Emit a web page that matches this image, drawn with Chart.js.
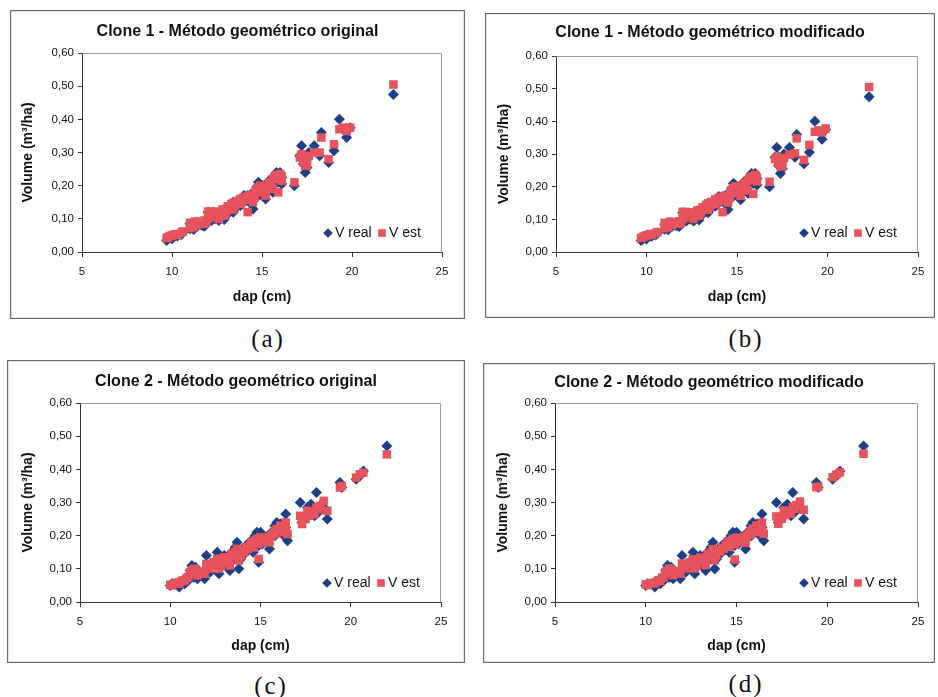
<!DOCTYPE html>
<html>
<head>
<meta charset="utf-8">
<script src="https://cdn.jsdelivr.net/npm/chart.js@4"></script>
<style>
  html, body { margin:0; padding:0; background:#ffffff; }
  body { width:938px; height:697px; position:relative; overflow:hidden; }
  canvas { position:absolute; }
  .lbl { position:absolute; font-family:"Liberation Serif","Times New Roman",serif; font-size:25px; color:#111;
         letter-spacing:2px; padding-left:2px; transform:translate(-50%,-50%); line-height:1; white-space:nowrap; }
</style>
</head>
<body>
<canvas id="c0"></canvas>
<canvas id="c1"></canvas>
<canvas id="c2"></canvas>
<canvas id="c3"></canvas>
<div class="lbl" id="l0"></div>
<div class="lbl" id="l1"></div>
<div class="lbl" id="l2"></div>
<div class="lbl" id="l3"></div>
<script>
// ---------------- DATA ----------------
const titles = [
  'Clone 1 - Método geométrico original',
  'Clone 1 - Método geométrico modificado',
  'Clone 2 - Método geométrico original',
  'Clone 2 - Método geométrico modificado'
];
const panelLabels = ['(a)', '(b)', '(c)', '(d)'];
const seriesNames = ['V real', 'V est'];
const xAxisTitle = 'dap (cm)';
const yAxisTitle = 'Volume (m³/ha)';
const xTicks = [5, 10, 15, 20, 25];
const yTickValues = [0, 0.1, 0.2, 0.3, 0.4, 0.5, 0.6];
const yTickLabels = ['0,00', '0,10', '0,20', '0,30', '0,40', '0,50', '0,60'];

// Clone 1 (dap in cm, volumes in m³)
const dap1 = [9.7, 9.8, 9.9, 10.0, 10.1, 10.2, 10.5, 10.6, 11.0, 11.1, 11.2, 11.3, 11.4, 11.5, 11.6, 11.7, 11.8, 11.9,
  12.0, 12.1, 12.2, 12.3, 12.4, 12.5, 12.6, 12.7, 12.8, 12.9, 13.0, 13.1, 13.2, 13.3, 13.5, 13.6, 13.7, 13.8, 13.9,
  14.0, 14.1, 14.2, 14.3, 14.4, 14.5, 14.6, 14.7, 14.8, 14.9, 15.0, 15.1, 15.2, 15.3, 15.4, 15.5, 15.6, 15.7, 15.8, 15.9,
  16.0, 16.1, 16.8, 17.1, 17.2, 17.3, 17.4, 17.5, 17.6, 17.9, 18.2, 18.3, 18.7, 19.0, 19.3, 19.5, 19.7, 19.9, 22.3,
  11.3, 11.8, 12.2, 12.6, 13.0, 13.4, 13.4, 13.8, 14.2, 14.6, 14.9, 15.1, 15.4, 15.6, 15.8, 16.0, 16.1, 12.0, 11.0, 10.3, 17.3, 17.5];
const vReal1 = [0.035, 0.040, 0.045, 0.040, 0.048, 0.050, 0.052, 0.058, 0.070, 0.075, 0.068, 0.080, 0.078, 0.085, 0.082, 0.080, 0.088, 0.085,
  0.092, 0.110, 0.095, 0.120, 0.100, 0.105, 0.115, 0.100, 0.125, 0.098, 0.110, 0.135, 0.120, 0.140, 0.130, 0.145, 0.150, 0.160, 0.145,
  0.170, 0.155, 0.165, 0.150, 0.175, 0.130, 0.180, 0.195, 0.210, 0.175, 0.185, 0.200, 0.160, 0.205, 0.190, 0.215, 0.225, 0.230, 0.240, 0.210,
  0.235, 0.205, 0.200, 0.290, 0.320, 0.265, 0.240, 0.280, 0.300, 0.320, 0.290, 0.360, 0.270, 0.305, 0.400, 0.370, 0.345, 0.375, 0.475,
  0.090, 0.078, 0.112, 0.095, 0.125, 0.150, 0.120, 0.140, 0.170, 0.160, 0.205, 0.170, 0.215, 0.180, 0.215, 0.240, 0.225, 0.120, 0.085, 0.048, 0.290, 0.255];
const vEst1a = [0.042, 0.045, 0.048, 0.050, 0.052, 0.054, 0.058, 0.062, 0.072, 0.080, 0.075, 0.085, 0.082, 0.088, 0.090, 0.087, 0.095, 0.092,
  0.100, 0.118, 0.105, 0.122, 0.110, 0.112, 0.120, 0.108, 0.128, 0.110, 0.118, 0.138, 0.128, 0.145, 0.138, 0.150, 0.155, 0.160, 0.152,
  0.165, 0.158, 0.120, 0.158, 0.172, 0.150, 0.178, 0.190, 0.195, 0.180, 0.188, 0.198, 0.170, 0.200, 0.195, 0.210, 0.220, 0.225, 0.232, 0.180,
  0.230, 0.215, 0.210, 0.285, 0.295, 0.270, 0.260, 0.275, 0.290, 0.300, 0.300, 0.345, 0.280, 0.325, 0.370, 0.375, 0.365, 0.375, 0.505,
  0.092, 0.085, 0.115, 0.100, 0.130, 0.148, 0.128, 0.145, 0.168, 0.165, 0.200, 0.180, 0.210, 0.190, 0.220, 0.235, 0.228, 0.122, 0.088, 0.052, 0.280, 0.262];
const vEst1b = [0.043, 0.046, 0.048, 0.051, 0.052, 0.055, 0.058, 0.061, 0.073, 0.081, 0.076, 0.084, 0.083, 0.089, 0.090, 0.088, 0.094, 0.093,
  0.101, 0.117, 0.106, 0.121, 0.111, 0.113, 0.121, 0.109, 0.127, 0.111, 0.119, 0.137, 0.129, 0.144, 0.139, 0.151, 0.154, 0.161, 0.153,
  0.166, 0.157, 0.122, 0.159, 0.171, 0.151, 0.177, 0.189, 0.196, 0.181, 0.187, 0.197, 0.172, 0.201, 0.194, 0.211, 0.219, 0.226, 0.231, 0.178,
  0.229, 0.216, 0.215, 0.284, 0.290, 0.272, 0.262, 0.276, 0.288, 0.298, 0.302, 0.348, 0.282, 0.328, 0.368, 0.372, 0.366, 0.378, 0.505,
  0.093, 0.086, 0.114, 0.101, 0.129, 0.149, 0.129, 0.146, 0.169, 0.166, 0.201, 0.181, 0.209, 0.188, 0.221, 0.236, 0.227, 0.123, 0.089, 0.053, 0.281, 0.263];

// Clone 2
const dap2 = [10.0, 10.1, 10.3, 10.5, 10.6, 10.8, 10.9, 11.0, 11.1, 11.2, 11.3, 11.4, 11.5, 11.6, 11.8, 11.9,
  12.0, 12.1, 12.2, 12.4, 12.5, 12.6, 12.7, 12.8, 12.9, 13.0, 13.1, 13.3, 13.4, 13.5, 13.6, 13.7, 13.8, 13.9,
  14.0, 14.2, 14.3, 14.4, 14.5, 14.6, 14.7, 14.8, 14.9, 15.0, 15.1, 15.2, 15.3, 15.5, 15.6, 15.7, 15.8, 15.9,
  16.0, 16.2, 16.3, 16.4, 16.5, 17.2, 17.3, 17.5, 17.7, 17.8, 18.0, 18.1, 18.3, 18.5, 18.7, 19.4, 19.5, 20.3, 20.5, 20.7, 22.0,
  11.3, 11.7, 12.3, 12.8, 13.2, 13.6, 14.1, 14.5, 14.9, 15.4, 15.8, 16.1, 16.4, 17.6, 18.2, 12.6, 10.7];
const vReal2 = [0.050, 0.055, 0.055, 0.045, 0.060, 0.055, 0.070, 0.065, 0.095, 0.110, 0.075, 0.105, 0.070, 0.090, 0.080, 0.070,
  0.140, 0.100, 0.090, 0.120, 0.110, 0.150, 0.085, 0.130, 0.120, 0.140, 0.110, 0.095, 0.150, 0.140, 0.165, 0.180, 0.100, 0.130,
  0.160, 0.170, 0.155, 0.180, 0.165, 0.150, 0.200, 0.210, 0.120, 0.210, 0.175, 0.195, 0.185, 0.160, 0.205, 0.215, 0.230, 0.240,
  0.220, 0.235, 0.200, 0.265, 0.185, 0.300, 0.240, 0.255, 0.270, 0.295, 0.260, 0.330, 0.290, 0.285, 0.250, 0.360, 0.345, 0.370, 0.380, 0.395, 0.470,
  0.095, 0.085, 0.110, 0.105, 0.125, 0.130, 0.145, 0.185, 0.170, 0.200, 0.200, 0.235, 0.225, 0.285, 0.270, 0.120, 0.060];
const vEst2c = [0.052, 0.050, 0.058, 0.055, 0.062, 0.065, 0.072, 0.075, 0.090, 0.095, 0.085, 0.098, 0.080, 0.090, 0.088, 0.085,
  0.115, 0.105, 0.100, 0.120, 0.115, 0.130, 0.100, 0.130, 0.125, 0.135, 0.120, 0.110, 0.145, 0.140, 0.150, 0.160, 0.125, 0.140,
  0.155, 0.165, 0.160, 0.170, 0.168, 0.165, 0.185, 0.190, 0.130, 0.195, 0.180, 0.190, 0.188, 0.180, 0.200, 0.205, 0.215, 0.220,
  0.215, 0.225, 0.210, 0.240, 0.205, 0.260, 0.235, 0.250, 0.260, 0.270, 0.265, 0.285, 0.290, 0.305, 0.275, 0.345, 0.350, 0.375, 0.385, 0.390, 0.445,
  0.100, 0.092, 0.112, 0.110, 0.128, 0.135, 0.150, 0.180, 0.175, 0.195, 0.205, 0.230, 0.220, 0.275, 0.280, 0.118, 0.065];
const vEst2d = [0.053, 0.051, 0.057, 0.056, 0.061, 0.064, 0.073, 0.076, 0.091, 0.094, 0.086, 0.097, 0.081, 0.091, 0.087, 0.086,
  0.116, 0.104, 0.101, 0.119, 0.116, 0.129, 0.101, 0.129, 0.126, 0.134, 0.121, 0.111, 0.144, 0.141, 0.149, 0.159, 0.126, 0.141,
  0.156, 0.164, 0.161, 0.171, 0.167, 0.166, 0.184, 0.191, 0.128, 0.194, 0.181, 0.189, 0.189, 0.179, 0.201, 0.206, 0.214, 0.221,
  0.216, 0.224, 0.211, 0.239, 0.206, 0.258, 0.236, 0.251, 0.262, 0.272, 0.266, 0.286, 0.292, 0.303, 0.278, 0.346, 0.348, 0.376, 0.384, 0.391, 0.447,
  0.101, 0.093, 0.113, 0.109, 0.129, 0.136, 0.151, 0.181, 0.174, 0.196, 0.204, 0.231, 0.221, 0.276, 0.281, 0.119, 0.066];

// ---------------- LAYOUT / STYLE ----------------
const FONT = '"Liberation Sans", Arial, Helvetica, sans-serif';
const BLUE = '#1d3f86';
const RED = '#e6535d';
const layout = [
  { box:[10, 10, 465, 319], area:[82, 53, 442, 252], titleY:32, yTitleX:28, xTitleY:297, lbl:[267, 338] },
  { box:[485, 13, 935, 318], area:[556, 56, 918, 252], titleY:33, yTitleX:504, xTitleY:297, lbl:[745, 338] },
  { box:[7, 360, 465, 663], area:[80, 403, 441, 602], titleY:382, yTitleX:28, xTitleY:646, lbl:[270, 685] },
  { box:[483, 363, 935, 663], area:[555, 403, 918, 602], titleY:383, yTitleX:503, xTitleY:646, lbl:[745, 683] }
];

const framePlugin = {
  id: 'frame',
  beforeDatasetsDraw(chart) {
    const ctx = chart.ctx, ca = chart.chartArea;
    ctx.save();
    ctx.strokeStyle = '#9a9a9a';
    ctx.lineWidth = 1;
    ctx.beginPath();
    ctx.moveTo(Math.round(ca.left) + 0.5, Math.round(ca.top) + 0.5);
    ctx.lineTo(Math.round(ca.right) - 0.5, Math.round(ca.top) + 0.5);
    ctx.lineTo(Math.round(ca.right) - 0.5, Math.round(ca.bottom));
    ctx.stroke();
    ctx.restore();
  },
  afterDraw(chart) {
    const ctx = chart.ctx, ca = chart.chartArea;
    ctx.save();
    ctx.strokeStyle = '#6a6a6a';
    ctx.lineWidth = 1.2;
    ctx.strokeRect(0.6, 0.6, chart.width - 1.2, chart.height - 1.2);
    const ly = ca.bottom - 19;
    const ds = chart.data.datasets;
    const dx = ca.right - 114;
    ctx.fillStyle = ds[0].backgroundColor;
    ctx.beginPath();
    ctx.moveTo(dx, ly - 4.8); ctx.lineTo(dx + 4.8, ly); ctx.lineTo(dx, ly + 4.8); ctx.lineTo(dx - 4.8, ly);
    ctx.closePath(); ctx.fill();
    const sx = ca.right - 60;
    ctx.fillStyle = ds[1].backgroundColor;
    ctx.fillRect(sx - 3.8, ly - 3.8, 7.6, 7.6);
    ctx.fillStyle = '#111';
    ctx.font = '14px ' + FONT;
    ctx.textBaseline = 'middle';
    ctx.textAlign = 'left';
    ctx.fillText(ds[0].label, ca.right - 107, ly);
    ctx.fillText(ds[1].label, ca.right - 53, ly);
    ctx.restore();
  }
};

function makeChart(i, dap, real, est) {
  const L = layout[i];
  const [bx0, by0, bx1, by1] = L.box;
  const [ax0, ay0, ax1, ay1] = L.area;
  const W = bx1 - bx0, H = by1 - by0;
  const cv = document.getElementById('c' + i);
  cv.width = W; cv.height = H;
  cv.style.left = bx0 + 'px'; cv.style.top = by0 + 'px';
  cv.style.width = W + 'px'; cv.style.height = H + 'px';
  const TF = 16, TLH = TF * 1.2;
  const tc = L.titleY - by0;
  const AF = 14, ALH = AF * 1.2;

  const lb = document.getElementById('l' + i);
  lb.textContent = panelLabels[i];
  lb.style.left = L.lbl[0] + 'px';
  lb.style.top = L.lbl[1] + 'px';

  return new Chart(cv, {
    type: 'scatter',
    data: {
      datasets: [
        { label: seriesNames[0], data: dap.map((x, k) => ({ x: x, y: real[k] })),
          pointStyle: 'rectRot', pointRadius: 5.5, pointHoverRadius: 5.5,
          backgroundColor: BLUE, borderColor: BLUE, borderWidth: 0, order: 2 },
        { label: seriesNames[1], data: dap.map((x, k) => ({ x: x, y: est[k] })),
          pointStyle: 'rect', pointRadius: 6, pointHoverRadius: 6,
          backgroundColor: RED, borderColor: RED, borderWidth: 0, order: 1 }
      ]
    },
    options: {
      responsive: false, animation: false, devicePixelRatio: 1,
      events: [],
      layout: { padding: 0 },
      plugins: {
        legend: { display: false },
        tooltip: { enabled: false },
        title: {
          display: true, text: titles[i], color: '#111',
          font: { family: FONT, size: TF, weight: 'bold', lineHeight: 1.2 },
          padding: { top: tc - TLH / 2, bottom: (ay0 - by0) - tc - TLH / 2 }
        }
      },
      scales: {
        x: {
          type: 'linear', min: xTicks[0], max: xTicks[xTicks.length - 1],
          afterBuildTicks: s => { s.ticks = xTicks.map(v => ({ value: v })); },
          afterFit: s => { s.height = by1 - ay1; },
          grid: { drawOnChartArea: false, drawTicks: true, tickLength: 5, color: '#333', lineWidth: 1 },
          border: { display: true, color: '#333', width: 1 },
          ticks: { color: '#111', padding: 8, maxRotation: 0, font: { family: FONT, size: 11.5 },
                   callback: v => String(v) },
          title: { display: true, text: xAxisTitle, color: '#111',
                   font: { family: FONT, size: AF, weight: 'bold', lineHeight: 1.2 },
                   padding: { top: 0, bottom: (by1 - L.xTitleY) - ALH / 2 } }
        },
        y: {
          type: 'linear', position: 'left', min: yTickValues[0], max: yTickValues[yTickValues.length - 1],
          afterBuildTicks: s => { s.ticks = yTickValues.map(v => ({ value: v })); },
          afterFit: s => { s.width = ax0 - bx0; },
          grid: { drawOnChartArea: false, drawTicks: true, tickLength: 4, color: '#333', lineWidth: 1 },
          border: { display: true, color: '#333', width: 1 },
          ticks: { color: '#111', padding: 4, font: { family: FONT, size: 11.5 },
                   callback: (v, idx) => yTickLabels[idx] },
          title: { display: true, text: yAxisTitle, color: '#111',
                   font: { family: FONT, size: AF, weight: 'bold', lineHeight: 1.2 },
                   padding: { top: (L.yTitleX - bx0) - ALH / 2, bottom: 0 } }
        },
        yRight: {
          type: 'linear', position: 'right', min: 0, max: 1, display: true,
          afterFit: s => { s.width = bx1 - ax1; },
          grid: { display: false, drawOnChartArea: false, drawTicks: false },
          border: { display: false },
          ticks: { display: false }
        }
      }
    },
    plugins: [framePlugin]
  });
}

makeChart(0, dap1, vReal1, vEst1a);
makeChart(1, dap1, vReal1, vEst1b);
makeChart(2, dap2, vReal2, vEst2c);
makeChart(3, dap2, vReal2, vEst2d);
</script>
</body>
</html>
